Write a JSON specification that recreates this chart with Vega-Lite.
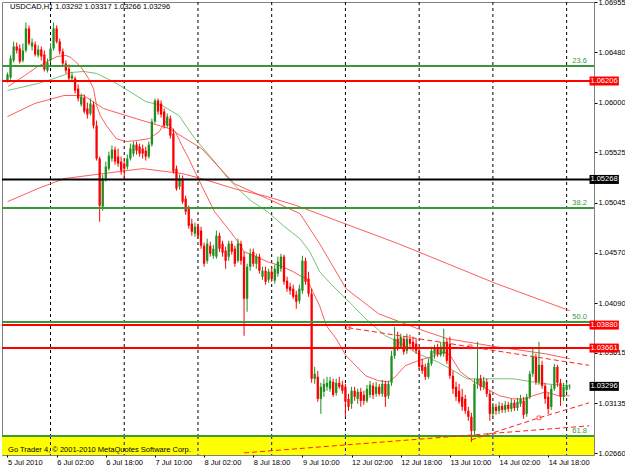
{
"$schema":"https://vega.github.io/schema/vega-lite/v6.json",
"width":592,"height":453,
"autosize":{"type":"none"},
"padding":{"left":2,"top":2,"right":31,"bottom":14},
"background":"white",
"config":{"view":{"stroke":"#808080","strokeWidth":1},"axis":{"grid":false,"labelFont":"Liberation Sans","labelFontSize":7.5,"labelColor":"#000000","tickColor":"#000000","domainColor":"#808080"}},
"resolve":{"scale":{"color":"independent"}},
"datasets":{
"candles":[
{"bar":0,"open":1.06211,"high":1.06287,"low":1.06192,"close":1.06268},
{"bar":1,"open":1.06240,"high":1.06450,"low":1.06220,"close":1.06421},
{"bar":2,"open":1.06402,"high":1.06583,"low":1.06383,"close":1.06535},
{"bar":3,"open":1.06535,"high":1.06573,"low":1.06468,"close":1.06497},
{"bar":4,"open":1.06516,"high":1.06554,"low":1.06373,"close":1.06392},
{"bar":5,"open":1.06402,"high":1.06564,"low":1.06383,"close":1.06497},
{"bar":6,"open":1.06497,"high":1.06764,"low":1.06478,"close":1.06707},
{"bar":7,"open":1.06707,"high":1.06735,"low":1.06545,"close":1.06564},
{"bar":8,"open":1.06535,"high":1.06611,"low":1.06497,"close":1.06573},
{"bar":9,"open":1.06554,"high":1.06583,"low":1.06440,"close":1.06459},
{"bar":10,"open":1.06450,"high":1.06545,"low":1.06430,"close":1.06507},
{"bar":11,"open":1.06507,"high":1.06535,"low":1.06402,"close":1.06440},
{"bar":12,"open":1.06459,"high":1.06497,"low":1.06297,"close":1.06316},
{"bar":13,"open":1.06306,"high":1.06421,"low":1.06287,"close":1.06383},
{"bar":14,"open":1.06402,"high":1.06564,"low":1.06383,"close":1.06516},
{"bar":15,"open":1.06516,"high":1.06764,"low":1.06497,"close":1.06707},
{"bar":16,"open":1.06707,"high":1.06735,"low":1.06564,"close":1.06583},
{"bar":17,"open":1.06583,"high":1.06611,"low":1.06459,"close":1.06488},
{"bar":18,"open":1.06488,"high":1.06516,"low":1.06344,"close":1.06373},
{"bar":19,"open":1.06373,"high":1.06402,"low":1.06278,"close":1.06306},
{"bar":20,"open":1.06325,"high":1.06364,"low":1.06211,"close":1.06230},
{"bar":21,"open":1.06230,"high":1.06287,"low":1.06201,"close":1.06258},
{"bar":22,"open":1.06230,"high":1.06249,"low":1.06087,"close":1.06115},
{"bar":23,"open":1.06134,"high":1.06173,"low":1.06010,"close":1.06039},
{"bar":24,"open":1.05982,"high":1.06087,"low":1.05963,"close":1.06058},
{"bar":25,"open":1.06049,"high":1.06077,"low":1.05896,"close":1.05915},
{"bar":26,"open":1.05944,"high":1.06001,"low":1.05848,"close":1.05886},
{"bar":27,"open":1.05896,"high":1.06039,"low":1.05877,"close":1.05991},
{"bar":28,"open":1.05982,"high":1.06010,"low":1.05753,"close":1.05781},
{"bar":29,"open":1.05781,"high":1.05829,"low":1.05448,"close":1.05467},
{"bar":30,"open":1.05467,"high":1.05486,"low":1.04865,"close":1.05018},
{"bar":31,"open":1.05009,"high":1.05314,"low":1.04971,"close":1.05276},
{"bar":32,"open":1.05276,"high":1.05438,"low":1.05247,"close":1.05390},
{"bar":33,"open":1.05371,"high":1.05533,"low":1.05352,"close":1.05495},
{"bar":34,"open":1.05467,"high":1.05591,"low":1.05438,"close":1.05552},
{"bar":35,"open":1.05552,"high":1.05581,"low":1.05409,"close":1.05438},
{"bar":36,"open":1.05486,"high":1.05562,"low":1.05390,"close":1.05419},
{"bar":37,"open":1.05438,"high":1.05486,"low":1.05314,"close":1.05352},
{"bar":38,"open":1.05419,"high":1.05467,"low":1.05276,"close":1.05371},
{"bar":39,"open":1.05390,"high":1.05505,"low":1.05362,"close":1.05467},
{"bar":40,"open":1.05467,"high":1.05610,"low":1.05448,"close":1.05562},
{"bar":41,"open":1.05514,"high":1.05629,"low":1.05486,"close":1.05600},
{"bar":42,"open":1.05600,"high":1.05629,"low":1.05505,"close":1.05543},
{"bar":43,"open":1.05581,"high":1.05610,"low":1.05486,"close":1.05514},
{"bar":44,"open":1.05562,"high":1.05600,"low":1.05467,"close":1.05514},
{"bar":45,"open":1.05543,"high":1.05581,"low":1.05448,"close":1.05486},
{"bar":46,"open":1.05486,"high":1.05629,"low":1.05467,"close":1.05600},
{"bar":47,"open":1.05600,"high":1.05848,"low":1.05581,"close":1.05820},
{"bar":48,"open":1.05820,"high":1.06039,"low":1.05801,"close":1.06020},
{"bar":49,"open":1.06020,"high":1.06039,"low":1.05886,"close":1.05915},
{"bar":50,"open":1.05991,"high":1.06020,"low":1.05858,"close":1.05886},
{"bar":51,"open":1.05915,"high":1.05944,"low":1.05753,"close":1.05781},
{"bar":52,"open":1.05781,"high":1.05896,"low":1.05762,"close":1.05867},
{"bar":53,"open":1.05848,"high":1.05877,"low":1.05657,"close":1.05686},
{"bar":54,"open":1.05705,"high":1.05753,"low":1.05324,"close":1.05343},
{"bar":55,"open":1.05371,"high":1.05400,"low":1.05161,"close":1.05180},
{"bar":56,"open":1.05199,"high":1.05314,"low":1.05171,"close":1.05276},
{"bar":57,"open":1.05276,"high":1.05305,"low":1.05037,"close":1.05056},
{"bar":58,"open":1.05085,"high":1.05114,"low":1.04932,"close":1.04961},
{"bar":59,"open":1.04990,"high":1.05018,"low":1.04799,"close":1.04827},
{"bar":60,"open":1.04847,"high":1.04894,"low":1.04732,"close":1.04770},
{"bar":61,"open":1.04751,"high":1.04856,"low":1.04722,"close":1.04818},
{"bar":62,"open":1.04818,"high":1.04847,"low":1.04703,"close":1.04732},
{"bar":63,"open":1.04780,"high":1.04818,"low":1.04608,"close":1.04636},
{"bar":64,"open":1.04636,"high":1.04665,"low":1.04436,"close":1.04465},
{"bar":65,"open":1.04493,"high":1.04703,"low":1.04465,"close":1.04656},
{"bar":66,"open":1.04636,"high":1.04675,"low":1.04532,"close":1.04560},
{"bar":67,"open":1.04541,"high":1.04646,"low":1.04513,"close":1.04608},
{"bar":68,"open":1.04532,"high":1.04780,"low":1.04513,"close":1.04732},
{"bar":69,"open":1.04732,"high":1.04761,"low":1.04579,"close":1.04608},
{"bar":70,"open":1.04656,"high":1.04684,"low":1.04532,"close":1.04570},
{"bar":71,"open":1.04589,"high":1.04627,"low":1.04417,"close":1.04493},
{"bar":72,"open":1.04532,"high":1.04684,"low":1.04493,"close":1.04656},
{"bar":73,"open":1.04656,"high":1.04684,"low":1.04551,"close":1.04579},
{"bar":74,"open":1.04608,"high":1.04636,"low":1.04436,"close":1.04465},
{"bar":75,"open":1.04493,"high":1.04703,"low":1.04474,"close":1.04656},
{"bar":76,"open":1.04656,"high":1.04684,"low":1.04455,"close":1.04493},
{"bar":77,"open":1.04532,"high":1.04579,"low":1.03778,"close":1.04131},
{"bar":78,"open":1.04131,"high":1.04465,"low":1.04007,"close":1.04436},
{"bar":79,"open":1.04436,"high":1.04608,"low":1.04398,"close":1.04560},
{"bar":80,"open":1.04579,"high":1.04608,"low":1.04436,"close":1.04465},
{"bar":81,"open":1.04465,"high":1.04560,"low":1.04417,"close":1.04532},
{"bar":82,"open":1.04532,"high":1.04560,"low":1.04370,"close":1.04398},
{"bar":83,"open":1.04341,"high":1.04436,"low":1.04312,"close":1.04398},
{"bar":84,"open":1.04398,"high":1.04436,"low":1.04265,"close":1.04293},
{"bar":85,"open":1.04312,"high":1.04417,"low":1.04284,"close":1.04389},
{"bar":86,"open":1.04389,"high":1.04436,"low":1.04293,"close":1.04322},
{"bar":87,"open":1.04303,"high":1.04455,"low":1.04274,"close":1.04417},
{"bar":88,"open":1.04370,"high":1.04532,"low":1.04341,"close":1.04484},
{"bar":89,"open":1.04417,"high":1.04560,"low":1.04389,"close":1.04532},
{"bar":90,"open":1.04532,"high":1.04551,"low":1.04265,"close":1.04293},
{"bar":91,"open":1.04303,"high":1.04341,"low":1.04198,"close":1.04227},
{"bar":92,"open":1.04246,"high":1.04284,"low":1.04170,"close":1.04208},
{"bar":93,"open":1.04227,"high":1.04265,"low":1.04131,"close":1.04150},
{"bar":94,"open":1.04170,"high":1.04208,"low":1.04036,"close":1.04102},
{"bar":95,"open":1.04112,"high":1.04265,"low":1.04083,"close":1.04227},
{"bar":96,"open":1.04208,"high":1.04541,"low":1.04179,"close":1.04493},
{"bar":97,"open":1.04493,"high":1.04522,"low":1.04265,"close":1.04293},
{"bar":98,"open":1.04322,"high":1.04389,"low":1.04150,"close":1.04179},
{"bar":99,"open":1.04179,"high":1.04227,"low":1.03330,"close":1.03368},
{"bar":100,"open":1.03368,"high":1.03482,"low":1.03320,"close":1.03416},
{"bar":101,"open":1.03387,"high":1.03444,"low":1.03149,"close":1.03177},
{"bar":102,"open":1.03177,"high":1.03330,"low":1.03034,"close":1.03292},
{"bar":103,"open":1.03244,"high":1.03368,"low":1.03196,"close":1.03320},
{"bar":104,"open":1.03292,"high":1.03387,"low":1.03254,"close":1.03330},
{"bar":105,"open":1.03273,"high":1.03387,"low":1.03244,"close":1.03349},
{"bar":106,"open":1.03339,"high":1.03368,"low":1.03196,"close":1.03215},
{"bar":107,"open":1.03234,"high":1.03368,"low":1.03206,"close":1.03330},
{"bar":108,"open":1.03330,"high":1.03387,"low":1.03273,"close":1.03292},
{"bar":109,"open":1.03311,"high":1.03349,"low":1.03225,"close":1.03254},
{"bar":110,"open":1.03292,"high":1.03320,"low":1.03006,"close":1.03149},
{"bar":111,"open":1.03177,"high":1.03225,"low":1.03063,"close":1.03101},
{"bar":112,"open":1.03130,"high":1.03292,"low":1.03082,"close":1.03254},
{"bar":113,"open":1.03254,"high":1.03292,"low":1.03158,"close":1.03196},
{"bar":114,"open":1.03177,"high":1.03273,"low":1.03130,"close":1.03244},
{"bar":115,"open":1.03244,"high":1.03282,"low":1.03101,"close":1.03158},
{"bar":116,"open":1.03215,"high":1.03254,"low":1.03120,"close":1.03158},
{"bar":117,"open":1.03158,"high":1.03311,"low":1.03139,"close":1.03273},
{"bar":118,"open":1.03215,"high":1.03349,"low":1.03187,"close":1.03311},
{"bar":119,"open":1.03301,"high":1.03330,"low":1.03177,"close":1.03215},
{"bar":120,"open":1.03225,"high":1.03339,"low":1.03196,"close":1.03292},
{"bar":121,"open":1.03292,"high":1.03320,"low":1.03206,"close":1.03225},
{"bar":122,"open":1.03225,"high":1.03358,"low":1.03196,"close":1.03320},
{"bar":123,"open":1.03320,"high":1.03349,"low":1.03101,"close":1.03196},
{"bar":124,"open":1.03206,"high":1.03349,"low":1.03177,"close":1.03320},
{"bar":125,"open":1.03330,"high":1.03635,"low":1.03301,"close":1.03587},
{"bar":126,"open":1.03587,"high":1.03864,"low":1.03559,"close":1.03750},
{"bar":127,"open":1.03750,"high":1.03816,"low":1.03635,"close":1.03654},
{"bar":128,"open":1.03673,"high":1.03797,"low":1.03654,"close":1.03769},
{"bar":129,"open":1.03750,"high":1.03778,"low":1.03597,"close":1.03626},
{"bar":130,"open":1.03635,"high":1.03797,"low":1.03606,"close":1.03750},
{"bar":131,"open":1.03750,"high":1.03788,"low":1.03654,"close":1.03702},
{"bar":132,"open":1.03721,"high":1.03769,"low":1.03635,"close":1.03654},
{"bar":133,"open":1.03702,"high":1.03750,"low":1.03606,"close":1.03635},
{"bar":134,"open":1.03635,"high":1.03654,"low":1.03463,"close":1.03482},
{"bar":135,"open":1.03501,"high":1.03559,"low":1.03416,"close":1.03444},
{"bar":136,"open":1.03482,"high":1.03511,"low":1.03358,"close":1.03387},
{"bar":137,"open":1.03387,"high":1.03559,"low":1.03368,"close":1.03520},
{"bar":138,"open":1.03511,"high":1.03673,"low":1.03492,"close":1.03635},
{"bar":139,"open":1.03606,"high":1.03692,"low":1.03559,"close":1.03654},
{"bar":140,"open":1.03654,"high":1.03702,"low":1.03578,"close":1.03606},
{"bar":141,"open":1.03597,"high":1.03721,"low":1.03578,"close":1.03673},
{"bar":142,"open":1.03606,"high":1.03845,"low":1.03578,"close":1.03721},
{"bar":143,"open":1.03721,"high":1.03750,"low":1.03511,"close":1.03540},
{"bar":144,"open":1.03702,"high":1.03769,"low":1.03368,"close":1.03397},
{"bar":145,"open":1.03397,"high":1.03444,"low":1.03225,"close":1.03273},
{"bar":146,"open":1.03292,"high":1.03339,"low":1.03158,"close":1.03196},
{"bar":147,"open":1.03254,"high":1.03320,"low":1.03130,"close":1.03149},
{"bar":148,"open":1.03196,"high":1.03273,"low":1.03063,"close":1.03101},
{"bar":149,"open":1.03177,"high":1.03215,"low":1.03034,"close":1.03063},
{"bar":150,"open":1.03063,"high":1.03101,"low":1.02968,"close":1.03006},
{"bar":151,"open":1.03006,"high":1.03044,"low":1.02767,"close":1.02872},
{"bar":152,"open":1.02872,"high":1.03368,"low":1.02825,"close":1.03320},
{"bar":153,"open":1.03320,"high":1.03721,"low":1.03273,"close":1.03368},
{"bar":154,"open":1.03368,"high":1.03406,"low":1.03254,"close":1.03292},
{"bar":155,"open":1.03292,"high":1.03387,"low":1.03263,"close":1.03349},
{"bar":156,"open":1.03339,"high":1.03368,"low":1.03196,"close":1.03225},
{"bar":157,"open":1.03225,"high":1.03254,"low":1.02968,"close":1.03034},
{"bar":158,"open":1.03034,"high":1.03139,"low":1.03006,"close":1.03101},
{"bar":159,"open":1.03101,"high":1.03130,"low":1.03025,"close":1.03063},
{"bar":160,"open":1.03063,"high":1.03149,"low":1.03034,"close":1.03110},
{"bar":161,"open":1.03110,"high":1.03139,"low":1.03044,"close":1.03072},
{"bar":162,"open":1.03072,"high":1.03158,"low":1.03044,"close":1.03120},
{"bar":163,"open":1.03120,"high":1.03149,"low":1.03053,"close":1.03082},
{"bar":164,"open":1.03082,"high":1.03177,"low":1.03053,"close":1.03139},
{"bar":165,"open":1.03139,"high":1.03168,"low":1.03063,"close":1.03091},
{"bar":166,"open":1.03091,"high":1.03187,"low":1.03063,"close":1.03149},
{"bar":167,"open":1.03130,"high":1.03215,"low":1.03101,"close":1.03177},
{"bar":168,"open":1.03158,"high":1.03196,"low":1.02987,"close":1.03025},
{"bar":169,"open":1.03034,"high":1.03225,"low":1.03006,"close":1.03196},
{"bar":170,"open":1.03196,"high":1.03444,"low":1.03177,"close":1.03416},
{"bar":171,"open":1.03416,"high":1.03654,"low":1.03387,"close":1.03578},
{"bar":172,"open":1.03578,"high":1.03606,"low":1.03311,"close":1.03339},
{"bar":173,"open":1.03339,"high":1.03721,"low":1.03311,"close":1.03501},
{"bar":174,"open":1.03501,"high":1.03540,"low":1.03273,"close":1.03301},
{"bar":175,"open":1.03301,"high":1.03330,"low":1.03130,"close":1.03177},
{"bar":176,"open":1.03196,"high":1.03234,"low":1.03034,"close":1.03082},
{"bar":177,"open":1.03101,"high":1.03311,"low":1.03072,"close":1.03273},
{"bar":178,"open":1.03273,"high":1.03511,"low":1.03254,"close":1.03482},
{"bar":179,"open":1.03482,"high":1.03501,"low":1.03292,"close":1.03330},
{"bar":180,"open":1.03330,"high":1.03368,"low":1.03110,"close":1.03196},
{"bar":181,"open":1.03196,"high":1.03330,"low":1.03158,"close":1.03292},
{"bar":182,"open":1.03263,"high":1.03339,"low":1.03244,"close":1.03301},
{"bar":183,"open":1.03292,"high":1.03317,"low":1.03266,"close":1.03296}
],
"ma":[
{"ma":"green","bar":0,"price":1.06115},{"ma":"green","bar":9.8,"price":1.06182},{"ma":"green","bar":15.2,"price":1.0623},{"ma":"green","bar":20.6,"price":1.06287},{"ma":"green","bar":24.8,"price":1.06297},{"ma":"green","bar":29,"price":1.06278},{"ma":"green","bar":34.4,"price":1.06201},{"ma":"green","bar":39.8,"price":1.06106},{"ma":"green","bar":45,"price":1.0601},{"ma":"green","bar":50.4,"price":1.05972},{"ma":"green","bar":55.8,"price":1.05877},{"ma":"green","bar":61,"price":1.05657},{"ma":"green","bar":67.4,"price":1.05438},{"ma":"green","bar":71.8,"price":1.05276},{"ma":"green","bar":76,"price":1.05152},{"ma":"green","bar":79.2,"price":1.05066},{"ma":"green","bar":84.6,"price":1.04961},{"ma":"green","bar":89.8,"price":1.04827},{"ma":"green","bar":95.2,"price":1.04703},{"ma":"green","bar":98.4,"price":1.04579},{"ma":"green","bar":101.6,"price":1.04389},{"ma":"green","bar":105.8,"price":1.04255},{"ma":"green","bar":110.2,"price":1.04131},{"ma":"green","bar":116.6,"price":1.0394},{"ma":"green","bar":123,"price":1.03778},{"ma":"green","bar":127.2,"price":1.03721},{"ma":"green","bar":133.6,"price":1.03606},{"ma":"green","bar":140,"price":1.0353},{"ma":"green","bar":144.2,"price":1.03463},{"ma":"green","bar":149.6,"price":1.03368},{"ma":"green","bar":157,"price":1.03368},{"ma":"green","bar":164.6,"price":1.03368},{"ma":"green","bar":168.8,"price":1.03349},{"ma":"green","bar":175.2,"price":1.0332},{"ma":"green","bar":183,"price":1.03301},
{"ma":"fast","bar":0.2,"price":1.06154},{"ma":"fast","bar":5.6,"price":1.06258},{"ma":"fast","bar":9.8,"price":1.06344},{"ma":"fast","bar":13,"price":1.06392},{"ma":"fast","bar":16.2,"price":1.0644},{"ma":"fast","bar":19,"price":1.0645},{"ma":"fast","bar":20.6,"price":1.0643},{"ma":"fast","bar":23.8,"price":1.06344},{"ma":"fast","bar":26.4,"price":1.0623},{"ma":"fast","bar":28,"price":1.06134},{"ma":"fast","bar":29,"price":1.05972},{"ma":"fast","bar":30.2,"price":1.05877},{"ma":"fast","bar":32.2,"price":1.05781},{"ma":"fast","bar":35.4,"price":1.05657},{"ma":"fast","bar":38.6,"price":1.05629},{"ma":"fast","bar":41.8,"price":1.05638},{"ma":"fast","bar":46.2,"price":1.05657},{"ma":"fast","bar":49.4,"price":1.05724},{"ma":"fast","bar":51.4,"price":1.0582},{"ma":"fast","bar":54.6,"price":1.05724},{"ma":"fast","bar":56.8,"price":1.05591},{"ma":"fast","bar":59,"price":1.05467},{"ma":"fast","bar":61,"price":1.05343},{"ma":"fast","bar":63.2,"price":1.05209},{"ma":"fast","bar":67.4,"price":1.04961},{"ma":"fast","bar":71.8,"price":1.04799},{"ma":"fast","bar":75,"price":1.04675},{"ma":"fast","bar":77,"price":1.04579},{"ma":"fast","bar":80.2,"price":1.04541},{"ma":"fast","bar":84.6,"price":1.04484},{"ma":"fast","bar":88.8,"price":1.04446},{"ma":"fast","bar":93,"price":1.04389},{"ma":"fast","bar":95.2,"price":1.04351},{"ma":"fast","bar":97.4,"price":1.04322},{"ma":"fast","bar":99.4,"price":1.04198},{"ma":"fast","bar":101.6,"price":1.04064},{"ma":"fast","bar":103.8,"price":1.03874},{"ma":"fast","bar":107,"price":1.0375},{"ma":"fast","bar":110.2,"price":1.03587},{"ma":"fast","bar":113.4,"price":1.03492},{"ma":"fast","bar":116.6,"price":1.03397},{"ma":"fast","bar":120.8,"price":1.03349},{"ma":"fast","bar":124,"price":1.03339},{"ma":"fast","bar":126.2,"price":1.03387},{"ma":"fast","bar":129.4,"price":1.03492},{"ma":"fast","bar":133.6,"price":1.0354},{"ma":"fast","bar":137.8,"price":1.03578},{"ma":"fast","bar":142.2,"price":1.03626},{"ma":"fast","bar":144.2,"price":1.03587},{"ma":"fast","bar":147.4,"price":1.03435},{"ma":"fast","bar":151.8,"price":1.03339},{"ma":"fast","bar":156,"price":1.03273},{"ma":"fast","bar":160.2,"price":1.03206},{"ma":"fast","bar":164.6,"price":1.03177},{"ma":"fast","bar":168.8,"price":1.03177},{"ma":"fast","bar":171,"price":1.03206},{"ma":"fast","bar":175.2,"price":1.03244},{"ma":"fast","bar":179.4,"price":1.03206},{"ma":"fast","bar":183,"price":1.03206},
{"ma":"mid","bar":0,"price":1.05867},{"ma":"mid","bar":8.8,"price":1.05991},{"ma":"mid","bar":18.4,"price":1.06068},{"ma":"mid","bar":24.8,"price":1.06068},{"ma":"mid","bar":31.2,"price":1.05944},{"ma":"mid","bar":41.8,"price":1.05848},{"ma":"mid","bar":52.6,"price":1.05753},{"ma":"mid","bar":63.2,"price":1.05562},{"ma":"mid","bar":73.8,"price":1.05228},{"ma":"mid","bar":84.6,"price":1.05085},{"ma":"mid","bar":95.2,"price":1.04942},{"ma":"mid","bar":101.6,"price":1.04656},{"ma":"mid","bar":110.2,"price":1.04227},{"ma":"mid","bar":120.8,"price":1.03988},{"ma":"mid","bar":133.6,"price":1.03845},{"ma":"mid","bar":143.2,"price":1.0375},{"ma":"mid","bar":159.2,"price":1.03673},{"ma":"mid","bar":175.2,"price":1.03606},{"ma":"mid","bar":183,"price":1.03559},
{"ma":"slow","bar":0,"price":1.05056},{"ma":"slow","bar":9.8,"price":1.0518},{"ma":"slow","bar":18.4,"price":1.05276},{"ma":"slow","bar":31.2,"price":1.05324},{"ma":"slow","bar":44,"price":1.05371},{"ma":"slow","bar":56.8,"price":1.05324},{"ma":"slow","bar":63.2,"price":1.05276},{"ma":"slow","bar":73.8,"price":1.0518},{"ma":"slow","bar":84.6,"price":1.05104},{"ma":"slow","bar":94.2,"price":1.05018},{"ma":"slow","bar":108,"price":1.04866},{"ma":"slow","bar":127.2,"price":1.04656},{"ma":"slow","bar":143.2,"price":1.04465},{"ma":"slow","bar":159.2,"price":1.04274},{"ma":"slow","bar":175.2,"price":1.04102},{"ma":"slow","bar":183,"price":1.04017}
],
"levels":[
{"price":1.06206,"kind":"resistance"},{"price":1.0388,"kind":"resistance"},{"price":1.03661,"kind":"resistance"},{"price":1.05268,"kind":"pivot"},
{"price":1.06349,"kind":"fibo","label":"23.6"},{"price":1.04996,"kind":"fibo","label":"38.2"},{"price":1.03909,"kind":"fibo","label":"50.0"},{"price":1.02823,"kind":"fibo","label":"61.8"}
],
"trend":[
{"line":"t1","bar":110.9,"price":1.03855},{"line":"t1","bar":150.6,"price":1.03673},{"line":"t1","bar":189.3,"price":1.03497},
{"line":"t2","bar":77,"price":1.02662},{"line":"t2","bar":189.3,"price":1.0292},
{"line":"t3","bar":150.9,"price":1.02786},{"line":"t3","bar":173,"price":1.02996},{"line":"t3","bar":189.3,"price":1.03139}
],
"anchors":[{"bar":110.9,"price":1.03855},{"bar":150.6,"price":1.03673},{"bar":173,"price":1.02996}],
"sep":[{"bar":14},{"bar":38},{"bar":62},{"bar":86},{"bar":110},{"bar":134},{"bar":158},{"bar":182}],
"boxes":[
{"price":1.06206,"kind":"resistance","text":"1.06206"},{"price":1.0388,"kind":"resistance","text":"1.03880"},{"price":1.03661,"kind":"resistance","text":"1.03661"},{"price":1.05268,"kind":"pivot","text":"1.05268"},{"price":1.03296,"kind":"bid","text":"1.03296"}
]
},
"layer":[
{"data":{"name":"sep"},"mark":{"type":"rule","color":"#000000","strokeWidth":1,"strokeDash":[3,3]},
 "encoding":{"x":{"field":"bar","type":"quantitative","title":null,"scale":{"domain":[-0.16,189.28],"nice":false,"zero":false},
   "axis":{"orient":"bottom","values":[0,16,32,48,64,80,96,112,128,144,160,176],"labelExpr":"['5 Jul 2010','6 Jul 02:00','6 Jul 18:00','7 Jul 10:00','8 Jul 02:00','8 Jul 18:00','9 Jul 10:00','12 Jul 02:00','12 Jul 18:00','13 Jul 10:00','14 Jul 02:00','14 Jul 18:00'][round(datum.value/16)]","labelAlign":"left","labelPadding":1,"tickSize":2,"domain":false,"labelFlush":false,"labelOverlap":false,"labelBound":false}}}},
{"data":{"values":[{"top":1.02823,"bottom":1.02642}]},"mark":{"type":"rect","color":"#ffff00"},
 "encoding":{"y":{"field":"top","type":"quantitative","title":null,"scale":{"domain":[1.02642,1.06959],"nice":false,"zero":false}},"y2":{"field":"bottom"}}},
{"data":{"name":"sep"},"mark":{"type":"rule","color":"#0000ff","strokeWidth":1,"strokeDash":[3,3]},
 "encoding":{"x":{"field":"bar","type":"quantitative","title":null},"y":{"datum":1.02823,"type":"quantitative","title":null},"y2":{"datum":1.02642}}},
{"data":{"name":"ma"},"mark":{"type":"line","strokeWidth":1,"opacity":0.85},
 "encoding":{"x":{"field":"bar","type":"quantitative","title":null},"y":{"field":"price","type":"quantitative","title":null},"detail":{"field":"ma"},
  "color":{"field":"ma","type":"nominal","legend":null,"scale":{"domain":["green","fast","mid","slow"],"range":["#5cb85c","#ff4040","#ff4040","#ff4040"]}}}},
{"data":{"name":"candles"},"mark":{"type":"rule","strokeWidth":1},
 "encoding":{"x":{"field":"bar","type":"quantitative","title":null},
  "y":{"field":"low","type":"quantitative","title":null,"axis":{"orient":"right","values":[1.06955,1.06715,1.0648,1.0624,1.06,1.0576,1.05525,1.05285,1.05045,1.04805,1.0457,1.0433,1.0409,1.0385,1.03615,1.03375,1.03135,1.029,1.0266],"format":".5f","tickSize":3,"labelPadding":1,"labelFlush":false,"labelOverlap":false,"labelBound":false}},
  "y2":{"field":"high"},
  "color":{"condition":{"test":"datum.close >= datum.open","value":"#1f8f1f"},"value":"#ff0000"}}},
{"data":{"name":"candles"},"mark":{"type":"bar","width":2.3},
 "encoding":{"x":{"field":"bar","type":"quantitative","title":null},"y":{"field":"open","type":"quantitative","title":null},"y2":{"field":"close"},
  "color":{"condition":{"test":"datum.close >= datum.open","value":"#1f8f1f"},"value":"#ff0000"}}},
{"data":{"name":"levels"},"mark":{"type":"rule","strokeWidth":2},
 "encoding":{"y":{"field":"price","type":"quantitative","title":null},
  "color":{"field":"kind","type":"nominal","legend":null,"scale":{"domain":["resistance","pivot","fibo"],"range":["#ff0000","#000000","#3a983a"]}}}},
{"data":{"name":"trend"},"mark":{"type":"line","strokeWidth":1,"strokeDash":[5,3],"color":"#ff2020"},
 "encoding":{"x":{"field":"bar","type":"quantitative","title":null},"y":{"field":"price","type":"quantitative","title":null},"detail":{"field":"line"}}},
{"data":{"name":"anchors"},"mark":{"type":"point","shape":"square","size":14,"filled":false,"color":"#ff2020","strokeWidth":1},
 "encoding":{"x":{"field":"bar","type":"quantitative","title":null},"y":{"field":"price","type":"quantitative","title":null}}},
{"data":{"name":"levels"},"transform":[{"filter":"datum.kind == 'fibo'"}],"mark":{"type":"text","align":"right","baseline":"bottom","dy":-1,"font":"Liberation Sans","fontSize":7.5,"color":"#3a983a"},
 "encoding":{"x":{"datum":188.6,"type":"quantitative"},"y":{"field":"price","type":"quantitative","title":null},"text":{"field":"label"}}},
{"data":{"name":"boxes"},"mark":{"type":"rect","height":9},
 "encoding":{"x":{"datum":189.45,"type":"quantitative"},"x2":{"datum":199},"y":{"field":"price","type":"quantitative","title":null},
  "color":{"field":"kind","type":"nominal","legend":null,"scale":{"domain":["resistance","pivot","bid"],"range":["#ff0000","#000000","#000000"]}}}},
{"data":{"name":"boxes"},"mark":{"type":"text","align":"left","baseline":"middle","font":"Liberation Sans","fontSize":7.5,"color":"#ffffff"},
 "encoding":{"x":{"datum":189.75,"type":"quantitative"},"y":{"field":"price","type":"quantitative","title":null},"text":{"field":"text"}}},
{"data":{"values":[{"text":"USDCAD,H1  1.03292 1.03317 1.03266 1.03296","bar":0.8,"price":1.06911},{"text":"Go Trader 4, © 2001-2010 MetaQuotes Software Corp.","bar":0.2,"price":1.0269}]},
 "mark":{"type":"text","align":"left","baseline":"middle","font":"Liberation Sans","fontSize":7.5,"color":"#000000"},
 "encoding":{"x":{"field":"bar","type":"quantitative","title":null},"y":{"field":"price","type":"quantitative","title":null},"text":{"field":"text"}}}
]
}
